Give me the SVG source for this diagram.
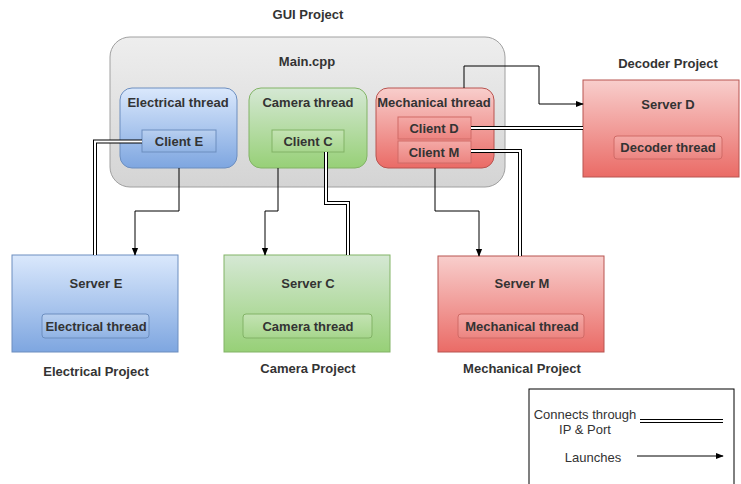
<svg xmlns="http://www.w3.org/2000/svg" width="741" height="484" viewBox="0 0 741 484">
<defs>
<linearGradient id="gB" x1="0" y1="0" x2="0" y2="1"><stop offset="0" stop-color="#dae8fc"/><stop offset="1" stop-color="#7ea6e0"/></linearGradient>
<linearGradient id="gG" x1="0" y1="0" x2="0" y2="1"><stop offset="0" stop-color="#d5e8d4"/><stop offset="1" stop-color="#97d077"/></linearGradient>
<linearGradient id="gR" x1="0" y1="0" x2="0" y2="1"><stop offset="0" stop-color="#f8cecc"/><stop offset="1" stop-color="#ea6b66"/></linearGradient>
<linearGradient id="gGray" x1="0" y1="0" x2="0" y2="1"><stop offset="0" stop-color="#eeeeee"/><stop offset="1" stop-color="#d4d4d4"/></linearGradient>
<linearGradient id="gBi" x1="0" y1="0" x2="0" y2="1"><stop offset="0" stop-color="#b9d0f0"/><stop offset="1" stop-color="#8fb2e4"/></linearGradient>
<linearGradient id="gGi" x1="0" y1="0" x2="0" y2="1"><stop offset="0" stop-color="#c4e3b4"/><stop offset="1" stop-color="#a6d68c"/></linearGradient>
<linearGradient id="gRi" x1="0" y1="0" x2="0" y2="1"><stop offset="0" stop-color="#f4a9a6"/><stop offset="1" stop-color="#ec8480"/></linearGradient>
<marker id="arr" viewBox="0 0 10 10" refX="9" refY="5" markerWidth="8" markerHeight="8" markerUnits="userSpaceOnUse" orient="auto"><path d="M0,1 L10,5 L0,9 Z" fill="#000"/></marker>
</defs>
<style>
text{font-family:"Liberation Sans",Arial,sans-serif;font-size:13px;font-weight:bold;fill:#333;text-anchor:middle}
.leg{font-weight:normal;fill:#333}
.blue{fill:url(#gB);stroke:#6c8ebf}
.green{fill:url(#gG);stroke:#82b366}
.red{fill:url(#gR);stroke:#b85450}
.bi{fill:url(#gBi);stroke:#6c8ebf}
.gi{fill:url(#gGi);stroke:#82b366}
.ri{fill:url(#gRi);stroke:#d06a66}
.launch{fill:none;stroke:#000;stroke-width:1}
.dbl{fill:none;stroke:#000;stroke-width:4}
.dbli{fill:none;stroke:#fff;stroke-width:2}
</style>

<text x="308" y="19">GUI Project</text>
<text x="668" y="68">Decoder Project</text>
<text x="96" y="376">Electrical Project</text>
<text x="308" y="373">Camera Project</text>
<text x="522" y="373">Mechanical Project</text>

<g id="gui">
<rect x="110" y="37" width="395" height="150" rx="20" fill="url(#gGray)" stroke="#a0a0a0"/>
<text x="307" y="66">Main.cpp</text>
</g>
<g id="electrical-thread">
<rect class="blue" x="120" y="88" width="117" height="80" rx="12"/>
<text x="178" y="107">Electrical thread</text>
</g>
<g id="camera-thread">
<rect class="green" x="249" y="88" width="118" height="80" rx="12"/>
<text x="308" y="107">Camera thread</text>
</g>
<g id="mechanical-thread">
<rect class="red" x="376" y="88" width="118" height="80" rx="12"/>
<text x="434" y="107">Mechanical thread</text>
</g>
<g id="client-e">
<rect class="bi" x="142" y="130" width="74" height="22"/>
<text x="179" y="146">Client E</text>
</g>
<g id="client-c">
<rect class="gi" x="272" y="130" width="72" height="22"/>
<text x="308" y="146">Client C</text>
</g>
<g id="client-d">
<rect class="ri" x="398" y="117" width="73" height="22"/>
<text x="434" y="133">Client D</text>
</g>
<g id="client-m">
<rect class="ri" x="398" y="141" width="73" height="22"/>
<text x="434" y="157">Client M</text>
</g>

<g id="server-d">
<rect class="red" x="583" y="80" width="156" height="97"/>
<text x="668" y="109">Server D</text>
<rect class="ri" x="614" y="136" width="108" height="23" rx="3"/>
<text x="668" y="152">Decoder thread</text>
</g>
<g id="server-e">
<rect class="blue" x="12" y="255" width="166" height="97"/>
<text x="96" y="288">Server E</text>
<rect class="bi" x="42" y="314" width="107" height="24" rx="3"/>
<text x="96" y="331">Electrical thread</text>
</g>
<g id="server-c">
<rect class="green" x="224" y="255" width="166" height="97"/>
<text x="308" y="288">Server C</text>
<rect class="gi" x="243" y="314" width="129" height="24" rx="3"/>
<text x="308" y="331">Camera thread</text>
</g>
<g id="server-m">
<rect class="red" x="438" y="256" width="166" height="96"/>
<text x="522" y="288">Server M</text>
<rect class="ri" x="458" y="314" width="126" height="24" rx="3"/>
<text x="522" y="331">Mechanical thread</text>
</g>

<g id="connectors">
<path class="launch" d="M179,168 V211 H135 V255" marker-end="url(#arr)"/>
<path class="launch" d="M278,168 V211 H265 V255" marker-end="url(#arr)"/>
<path class="launch" d="M435,168 V211 H479 V256" marker-end="url(#arr)"/>
<path class="launch" d="M464,88 V66 H539 V104 H583" marker-end="url(#arr)"/>
<path class="dbl" d="M142,141.5 H95 V255"/>
<path class="dbli" d="M142,141.5 H95 V255"/>
<path class="dbl" d="M326,152 V203 H348 V255"/>
<path class="dbli" d="M326,152 V203 H348 V255"/>
<path class="dbl" d="M471,128 H583"/>
<path class="dbli" d="M471,128 H583"/>
<path class="dbl" d="M471,151 H520 V256"/>
<path class="dbli" d="M471,151 H520 V256"/>
</g>

<g id="legend">
<rect x="529" y="389" width="205" height="100" fill="#fff" stroke="#000"/>
<text class="leg" x="585" y="419">Connects through</text>
<text class="leg" x="585" y="434">IP &amp; Port</text>
<path class="dbl" d="M640,421 H723"/>
<path class="dbli" d="M640,421 H723"/>
<text class="leg" x="593" y="462">Launches</text>
<path class="launch" d="M637,456 H723" marker-end="url(#arr)"/>
</g>
</svg>
